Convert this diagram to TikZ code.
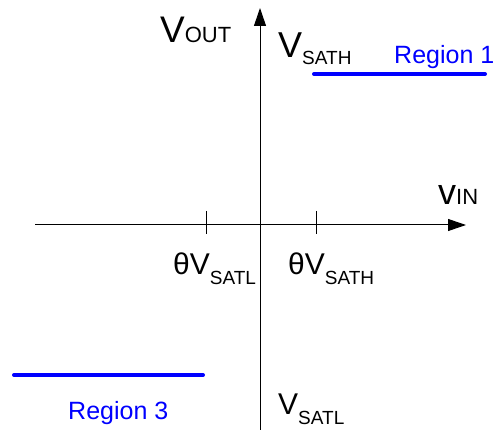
\documentclass[tikz,border=0pt]{standalone}
\usepackage{fontspec}
\setmainfont{Liberation Sans}
\usetikzlibrary{arrows.meta}

\definecolor{regionblue}{RGB}{0,0,255}
\tikzstyle{axis} = [line width=1pt, -{Triangle[length=18pt,width=12pt]}]
\tikzstyle{tick} = [line width=1pt]
\tikzstyle{level} = [regionblue, line width=4pt, line cap=round]
\tikzstyle{lbl} = [inner sep=0pt, anchor=base west]
\tikzstyle{regionlbl} = [inner sep=0pt, anchor=base west, text=regionblue, font=\fontsize{25}{25}\selectfont]

\newcommand{\volt}[5]{{\fontsize{#1}{#1}\selectfont #2}\raisebox{-#5pt}{\fontsize{#3}{#3}\selectfont #4}}

\begin{document}
\begin{tikzpicture}[x=1pt,y=-1pt]
\useasboundingbox (0,0) rectangle (493,430);
% axes
\coordinate (xstart) at (35,225);
\coordinate (xend) at (466,225);
\coordinate (ystart) at (260,430);
\coordinate (yend) at (260,8);
\draw[axis] (xstart) -- (xend);
\draw[axis] (ystart) -- (yend);
% thresholds
\coordinate (tlow) at (206,211);
\coordinate (tlowb) at (206,234);
\coordinate (thigh) at (316,211);
\coordinate (thighb) at (316,234);
\draw[tick] (tlow) -- (tlowb);
\draw[tick] (thigh) -- (thighb);
% saturation levels
\coordinate (r1a) at (314,74);
\coordinate (r1b) at (485,74);
\coordinate (r3a) at (14,375);
\coordinate (r3b) at (203,375);
\draw[level] (r1a) -- (r1b);
\draw[level] (r3a) -- (r3b);
% labels
\node[lbl] (vout) at (160,43) {\volt{37}{V}{22}{OUT}{0}};
\node[lbl] (vsath) at (278,58) {\volt{36}{V}{19}{SATH}{7}};
\node[lbl] (vin) at (438,205) {\volt{36}{v}{22}{IN}{0}};
\node[lbl] (thsatl) at (173,275) {\volt{30}{θV}{19}{SATL}{10}};
\node[lbl] (thsath) at (288,275) {\volt{30}{θV}{19}{SATH}{10}};
\node[lbl] (vsatl) at (278,414) {\volt{30}{V}{19}{SATL}{10}};
\node[regionlbl] (reg1) at (394,64) {Region 1};
\node[regionlbl] (reg3) at (68,420) {Region 3};
\end{tikzpicture}
\end{document}
